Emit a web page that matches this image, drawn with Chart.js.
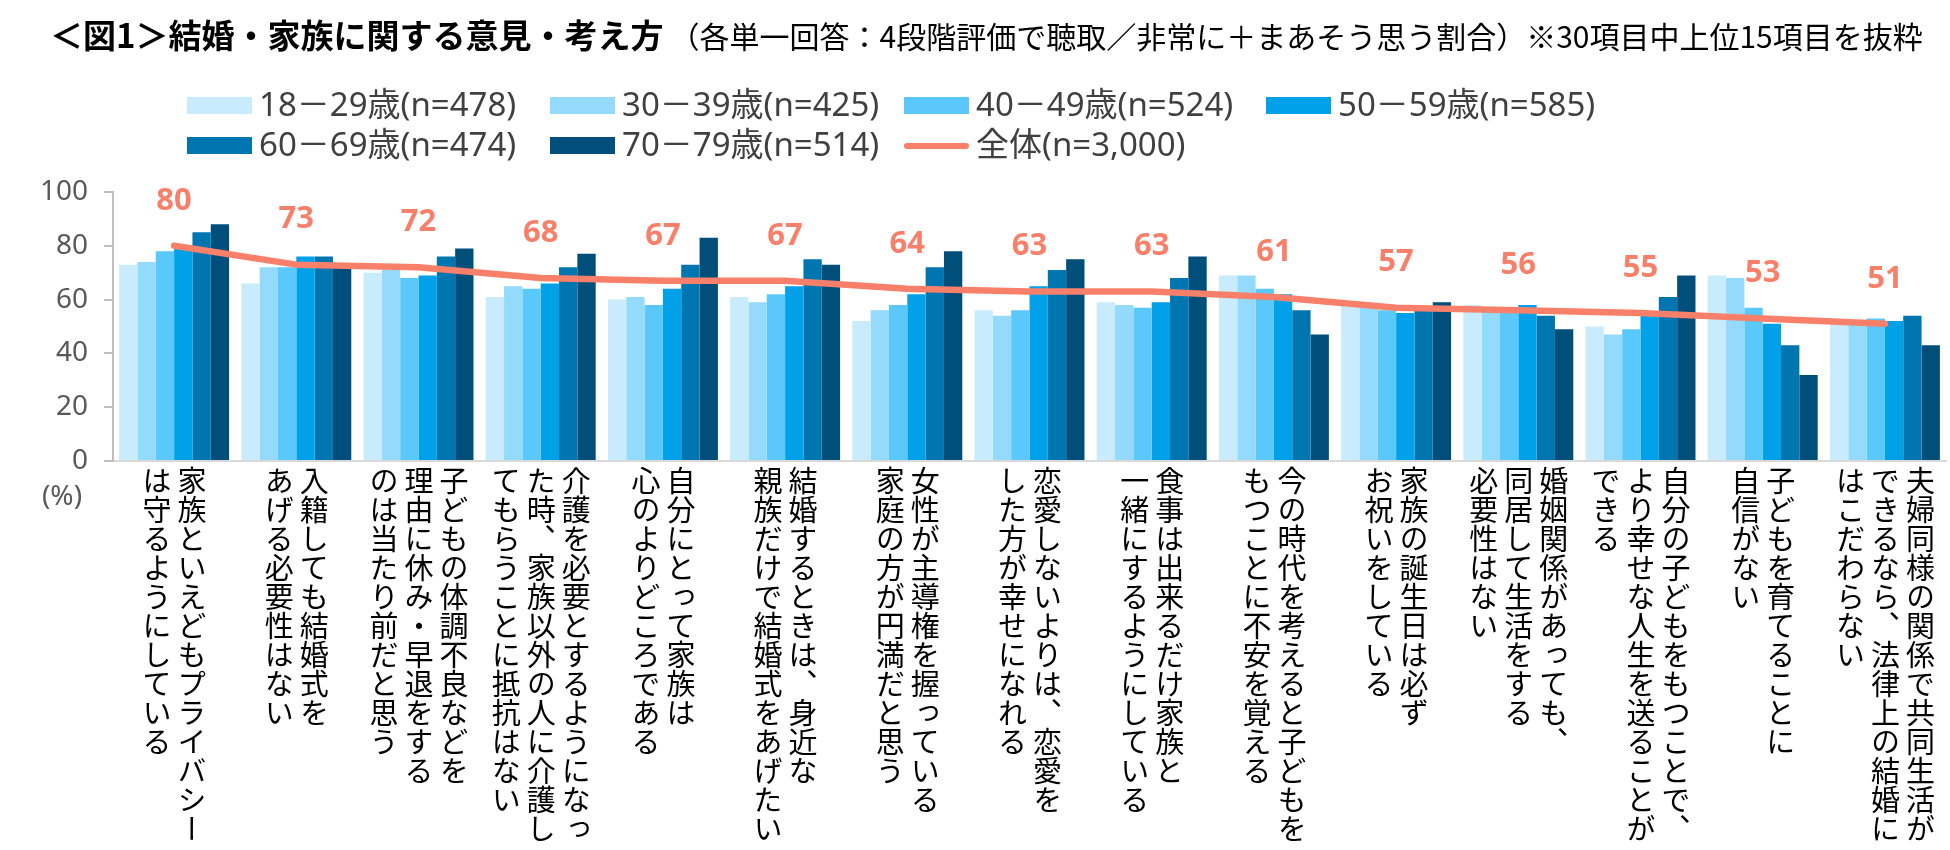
<!DOCTYPE html>
<html lang="ja">
<head>
<meta charset="utf-8">
<title>結婚・家族に関する意見・考え方</title>
<script src="https://cdn.jsdelivr.net/npm/chart.js@4.4.1/dist/chart.umd.min.js"></script>
<style>
  html, body { margin: 0; padding: 0; background: #fff; }
  #wrap { position: relative; width: 1950px; height: 850px; overflow: hidden; }
  #title { position: absolute; left: 50px; top: 12px; white-space: nowrap; color: #000;
           font-family: "Noto Sans CJK JP", sans-serif; line-height: 44px; }
  #title b { font-size: 33px; }
  #title span { font-size: 30px; margin-left: 6px; }
  .xlab { position: absolute; top: 466px; writing-mode: vertical-rl; white-space: pre;
          font-family: "Noto Sans CJK JP", sans-serif; font-size: 29px; line-height: 35px;
          color: #000; transform: translateX(-50%); }
</style>
</head>
<body>
<div id="wrap">
  <canvas id="chart" width="1950" height="850"></canvas>
  <div id="title"><b>＜図1＞結婚・家族に関する意見・考え方</b><span>（各単一回答：4段階評価で聴取／非常に＋まあそう思う割合）※30項目中上位15項目を抜粋</span></div>
</div>
<script>
// categories, columns split with \n (right column first, vertical text)
const categories = [
  '家族といえどもプライバシー\nは守るようにしている',
  '入籍しても結婚式を\nあげる必要性はない',
  '子どもの体調不良などを\n理由に休み・早退をする\nのは当たり前だと思う',
  '介護を必要とするようになっ\nた時、家族以外の人に介護し\nてもらうことに抵抗はない',
  '自分にとって家族は\n心のよりどころである',
  '結婚するときは、身近な\n親族だけで結婚式をあげたい',
  '女性が主導権を握っている\n家庭の方が円満だと思う',
  '恋愛しないよりは、恋愛を\nした方が幸せになれる',
  '食事は出来るだけ家族と\n一緒にするようにしている',
  '今の時代を考えると子どもを\nもつことに不安を覚える',
  '家族の誕生日は必ず\nお祝いをしている',
  '婚姻関係があっても、\n同居して生活をする\n必要性はない',
  '自分の子どもをもつことで、\nより幸せな人生を送ることが\nできる',
  '子どもを育てることに\n自信がない',
  '夫婦同様の関係で共同生活が\nできるなら、法律上の結婚に\nはこだわらない'
]

const seriesNames = ['18－29歳(n=478)', '30－39歳(n=425)', '40－49歳(n=524)', '50－59歳(n=585)',
                     '60－69歳(n=474)', '70－79歳(n=514)']
const totalName = '全体(n=3,000)'

const age18_29 = [73, 66, 70, 61, 60, 61, 52, 56, 59, 69, 58, 58, 50, 69, 51]
const age30_39 = [74, 72, 71, 65, 61, 59, 56, 54, 58, 69, 57, 57, 47, 68, 51]
const age40_49 = [78, 72, 68, 64, 58, 62, 58, 56, 57, 64, 56, 57, 49, 57, 53]
const age50_59 = [79, 76, 69, 66, 64, 65, 62, 65, 59, 62, 55, 58, 54, 51, 52]
const age60_69 = [85, 76, 76, 72, 73, 75, 72, 71, 68, 56, 56, 54, 61, 43, 54]
const age70_79 = [88, 72, 79, 77, 83, 73, 78, 75, 76, 47, 59, 49, 69, 32, 43]
const total    = [80, 73, 72, 68, 67, 67, 64, 63, 63, 61, 57, 56, 55, 53, 51]

const barColors = ['#C8ECFD', '#94DAFD', '#5BC8FB', '#00A1E8', '#0076B0', '#004F7A']
const lineColor = '#F8806A'

const barSeries = [age18_29, age30_39, age40_49, age50_59, age60_69, age70_79]

let datasets = barSeries.map((values, i) => ({
  type: 'bar',
  label: seriesNames[i],
  data: values,
  backgroundColor: barColors[i],
  categoryPercentage: 0.9,
  barPercentage: 1.0,
  order: 2
}))
datasets.push({
  type: 'line',
  label: totalName,
  data: total,
  borderColor: lineColor,
  borderWidth: 6.5,
  borderCapStyle: 'round',
  borderJoinStyle: 'round',
  pointRadius: 0,
  tension: 0,
  order: 1
})

// legend in a fixed 4-column grid, like the original
const legendCols = [187, 550, 904, 1266]
const legendRows = [106, 146]

const gridLegend = {
  id: 'gridLegend',
  afterDraw(chart) {
    const ctx = chart.ctx
    ctx.save()
    ctx.font = '33px "Noto Sans", "Noto Sans CJK JP"'
    ctx.textBaseline = 'middle'
    chart.data.datasets.forEach((ds, i) => {
      const x = legendCols[i % 4]
      const y = legendRows[Math.floor(i / 4)]
      if (ds.type === 'line') {
        ctx.strokeStyle = ds.borderColor
        ctx.lineWidth = 6
        ctx.lineCap = 'round'
        ctx.beginPath()
        ctx.moveTo(x + 3, y)
        ctx.lineTo(x + 62, y)
        ctx.stroke()
      } else {
        ctx.fillStyle = ds.backgroundColor
        ctx.fillRect(x, y - 9, 65, 17)
      }
      ctx.fillStyle = '#404040'
      ctx.fillText(ds.label, x + 72, y + 1)
    })
    // unit under the y axis
    ctx.font = '28px "Noto Sans"'
    ctx.fillStyle = '#595959'
    ctx.textAlign = 'center'
    ctx.fillText('(%)', 62, 497)
    ctx.restore()
  }
}

const totalLabels = {
  id: 'totalLabels',
  afterDatasetsDraw(chart) {
    const idx = chart.data.datasets.findIndex(d => d.type === 'line')
    const meta = chart.getDatasetMeta(idx)
    const ctx = chart.ctx
    ctx.save()
    ctx.font = 'bold 31px "Noto Sans", sans-serif'
    ctx.fillStyle = lineColor
    ctx.textAlign = 'center'
    ctx.textBaseline = 'middle'
    meta.data.forEach((pt, i) => {
      ctx.fillText(String(total[i]), pt.x, pt.y - 45)
    })
    ctx.restore()
  }
}

const chart = new Chart(document.getElementById('chart'), {
  data: { labels: categories, datasets: datasets },
  plugins: [gridLegend, totalLabels],
  options: {
    responsive: false,
    animation: false,
    layout: { padding: { top: 192, right: 4, bottom: 389, left: 0 } },
    plugins: {
      legend: { display: false },
      tooltip: { enabled: false },
      title: { display: false }
    },
    scales: {
      x: {
        grid: { display: false },
        border: { display: true, color: '#D9D9D9', width: 2 },
        ticks: { display: false },
        afterFit: s => { s.height = 0 }
      },
      y: {
        min: 0,
        max: 100,
        ticks: {
          stepSize: 20,
          padding: 16,
          color: '#595959',
          font: { family: '"Noto Sans"', size: 28 }
        },
        grid: { drawOnChartArea: false, drawTicks: true, tickLength: 9, color: '#BFBFBF', lineWidth: 2 },
        border: { color: '#BFBFBF', width: 2 },
        afterFit: s => { s.width = 113 }
      }
    }
  }
})

// vertical category labels, placed on the x scale
const wrap = document.getElementById('wrap')
categories.forEach((text, i) => {
  const div = document.createElement('div')
  div.className = 'xlab'
  div.textContent = text
  div.style.left = chart.scales.x.getPixelForValue(i) + 'px'
  wrap.appendChild(div)
})
</script>
</body>
</html>
